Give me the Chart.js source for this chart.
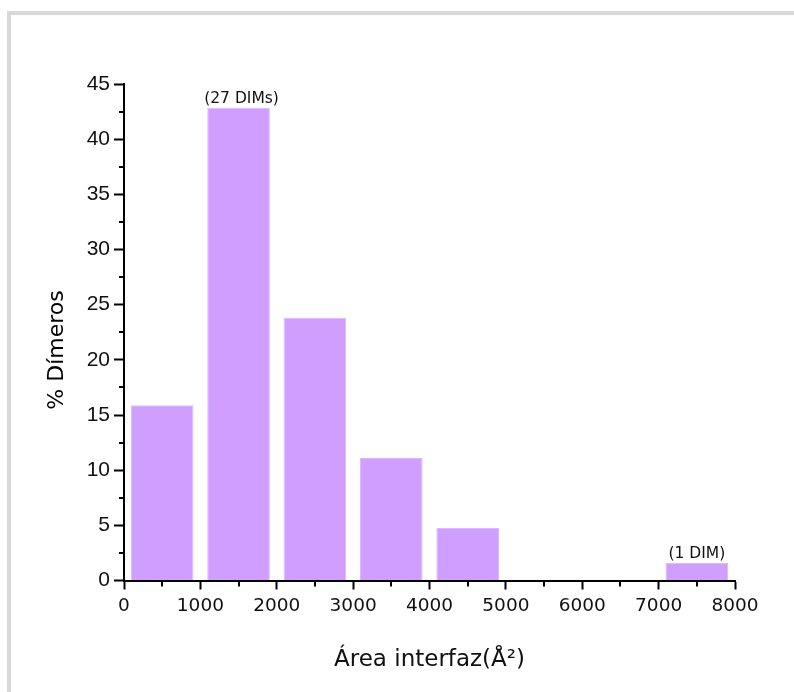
<!DOCTYPE html>
<html>
<head>
<meta charset="utf-8">
<script src="https://cdn.jsdelivr.net/npm/chart.js@4"></script>
<style>
  html, body { margin: 0; padding: 0; background: #fff; }
  #wrap { position: relative; width: 794px; height: 692px; overflow: hidden; }
  #frame { position: absolute; left: 7px; top: 11px; width: 800px; height: 700px;
           border-left: 4px solid #d9d9d9; border-top: 4px solid #d9d9d9; }
  canvas { position: absolute; left: 0; top: 0; }
</style>
</head>
<body>
<div id="wrap">
  <div id="frame"></div>
  <canvas id="c" width="794" height="692"></canvas>
</div>
<script>
// Interface-area histogram of dimers (bin width 1000 Å²)
const binCenters = [500, 1500, 2500, 3500, 4500, 5500, 6500, 7500];
const dimerCounts = [10, 27, 15, 7, 3, 0, 0, 1];
const annotatedBins = [1, 7];
const xTicks = [0, 1000, 2000, 3000, 4000, 5000, 6000, 7000, 8000];
const yTicks = [0, 5, 10, 15, 20, 25, 30, 35, 40, 45];

const totalDimers = dimerCounts.reduce((a, b) => a + b, 0);
const percentDimers = dimerCounts.map(n => n / totalDimers * 100);
const countLabel = n => n === 1 ? '(1 DIM)' : '(' + n + ' DIMs)';

const comic = 'DejaVu Sans';
const plainSans = 'Liberation Sans';

// minor ticks, bar annotations and the vertical axis title
const decorations = {
  id: 'decorations',
  afterDraw(chart) {
    const ctx = chart.ctx;
    const xs = chart.scales.x, ys = chart.scales.y;
    const area = chart.chartArea;
    ctx.save();
    ctx.strokeStyle = '#000';
    ctx.lineWidth = 2;
    ctx.beginPath();
    for (let i = 0; i < yTicks.length - 1; i++) {
      const y = Math.round(ys.getPixelForValue((yTicks[i] + yTicks[i + 1]) / 2));
      ctx.moveTo(area.left - 5, y);
      ctx.lineTo(area.left, y);
    }
    for (let i = 0; i < xTicks.length - 1; i++) {
      const x = Math.round(xs.getPixelForValue((xTicks[i] + xTicks[i + 1]) / 2));
      ctx.moveTo(x, area.bottom);
      ctx.lineTo(x, area.bottom + 6);
    }
    ctx.stroke();

    const meta = chart.getDatasetMeta(0);
    ctx.fillStyle = '#111';
    ctx.font = '15.5px "' + comic + '"';
    ctx.textAlign = 'center';
    ctx.textBaseline = 'middle';
    annotatedBins.forEach(i => {
      const bar = meta.data[i];
      ctx.fillText(countLabel(dimerCounts[i]), bar.x + (i === 1 ? 3 : 0), bar.y - 9);
    });

    ctx.translate(57, 350);
    ctx.rotate(-Math.PI / 2);
    ctx.font = '22px "' + comic + '"';
    ctx.fillStyle = '#000';
    ctx.fillText('% Dímeros', 0, 0);
    ctx.restore();
  }
};

new Chart(document.getElementById('c'), {
  type: 'bar',
  data: {
    datasets: [{
      data: binCenters.map((x, i) => ({ x: x, y: percentDimers[i] })),
      backgroundColor: '#cf9eff',
      borderColor: '#dcb9ff',
      borderWidth: 1,
      barPercentage: 1,
      categoryPercentage: 0.82
    }]
  },
  options: {
    responsive: false,
    animation: false,
    devicePixelRatio: 1,
    layout: { padding: { left: 0, right: 59, top: 84, bottom: 0 } },
    plugins: { legend: { display: false }, tooltip: { enabled: false } },
    scales: {
      x: {
        type: 'linear',
        min: 0, max: 8000,
        offset: false,
        afterBuildTicks(s) { s.ticks = xTicks.map(v => ({ value: v })); },
        afterFit(s) { s.height = 111.5; },
        grid: { offset: false, drawOnChartArea: false, drawTicks: true,
                tickLength: 9, tickWidth: 2, tickColor: '#000' },
        border: { display: true, color: '#000', width: 2 },
        ticks: { color: '#111', padding: 6, maxRotation: 0,
                 font: { family: comic, size: 18.5 },
                 callback: v => String(v) },
        title: { display: true, text: 'Área interfaz(Å²)', color: '#111',
                 font: { family: comic, size: 23 },
                 padding: { top: 0, bottom: 18 } }
      },
      y: {
        min: 0, max: 45,
        afterBuildTicks(s) { s.ticks = yTicks.map(v => ({ value: v })); },
        afterFit(s) { s.width = 124; },
        grid: { drawOnChartArea: false, drawTicks: true,
                tickLength: 10, tickWidth: 2, tickColor: '#000' },
        border: { display: true, color: '#000', width: 2 },
        ticks: { color: '#111', padding: 4,
                 font: { family: plainSans, size: 21 },
                 callback: v => String(v) }
      }
    }
  },
  plugins: [decorations]
});
</script>
</body>
</html>
